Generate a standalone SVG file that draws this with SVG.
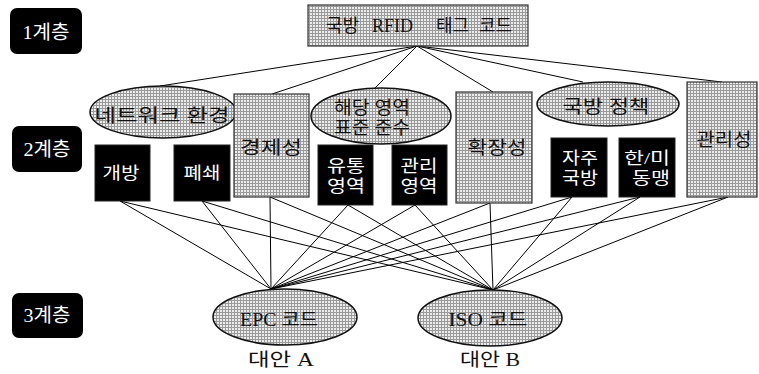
<svg xmlns="http://www.w3.org/2000/svg" width="759" height="374" viewBox="0 0 759 374">
<style>
.lbl{fill:#000}
.lt{fill:#fff;font-family:"Liberation Serif","Noto Sans CJK KR",serif;font-size:19px;text-anchor:middle;dominant-baseline:central}
.g{fill:url(#mesh);stroke:#333;stroke-width:1.2}
.ge{fill:url(#mesh);stroke:#111;stroke-width:1.5}
.b{fill:#000;stroke:#222;stroke-width:1}
.t{fill:#111;font-family:"Liberation Serif","Noto Sans CJK KR",serif;font-size:18px;text-anchor:middle;dominant-baseline:central}
.w{fill:#fff;font-family:"Liberation Serif","Noto Sans CJK KR",serif;font-size:17px;text-anchor:middle;dominant-baseline:central}
.c line{stroke:#000;stroke-width:1}
</style>
<defs>
<pattern id="mesh" width="3" height="3" patternUnits="userSpaceOnUse">
<rect width="3" height="3" fill="#ececec"/>
<rect width="3" height="1" fill="#9a9a9a"/>
<rect width="1" height="3" fill="#9a9a9a"/>
</pattern>
</defs>
<rect width="759" height="374" fill="#fff"/>

<g id="connectors" class="c">
<line x1="417" y1="46" x2="160" y2="86"/>
<line x1="417" y1="46" x2="272" y2="94"/>
<line x1="417" y1="46" x2="375" y2="88"/>
<line x1="417" y1="46" x2="493" y2="92"/>
<line x1="417" y1="46" x2="583" y2="82"/>
<line x1="417" y1="46" x2="722" y2="82"/>

<line x1="120" y1="201" x2="271" y2="289"/>
<line x1="120" y1="201" x2="493" y2="290"/>
<line x1="202" y1="201" x2="271" y2="289"/>
<line x1="202" y1="201" x2="493" y2="290"/>
<line x1="270" y1="197" x2="271" y2="289"/>
<line x1="270" y1="197" x2="493" y2="290"/>
<line x1="348" y1="205" x2="271" y2="289"/>
<line x1="348" y1="205" x2="493" y2="290"/>
<line x1="415" y1="205" x2="271" y2="289"/>
<line x1="415" y1="205" x2="493" y2="290"/>
<line x1="490" y1="203" x2="271" y2="289"/>
<line x1="490" y1="203" x2="493" y2="290"/>
<line x1="572" y1="197" x2="271" y2="289"/>
<line x1="572" y1="197" x2="493" y2="290"/>
<line x1="640" y1="197" x2="271" y2="289"/>
<line x1="640" y1="197" x2="493" y2="290"/>
<line x1="728" y1="197" x2="271" y2="289"/>
<line x1="728" y1="197" x2="493" y2="290"/>
</g>

<g id="layer1">
<rect x="10" y="8" width="72" height="46" rx="7" class="lbl"/>
<text x="46" y="32" class="lt" textLength="47" lengthAdjust="spacingAndGlyphs">1계층</text>
</g>
<g id="layer2">
<rect x="12" y="126" width="70" height="46" rx="7" class="lbl"/>
<text x="47" y="149" class="lt" textLength="47" lengthAdjust="spacingAndGlyphs">2계층</text>
</g>
<g id="layer3">
<rect x="12" y="293" width="71" height="45" rx="7" class="lbl"/>
<text x="47" y="315" class="lt" textLength="47" lengthAdjust="spacingAndGlyphs">3계층</text>
</g>

<g id="root">
<rect x="308" y="5" width="220" height="41" class="g"/>
<text y="26" class="t" font-size="19" style="text-anchor:start"><tspan x="326">국방</tspan><tspan x="372">RFID</tspan><tspan x="436">태그</tspan><tspan x="479">코드</tspan></text>
</g>

<g id="network">
<ellipse cx="163" cy="112" rx="73" ry="26" class="ge"/>
<text x="162" y="116" class="t" font-size="20" textLength="135" lengthAdjust="spacingAndGlyphs">네트워크 환경</text>
</g>
<g id="economy">
<rect x="234" y="94" width="75" height="103" class="g"/>
<text x="271" y="148" class="t" font-size="19" textLength="62" lengthAdjust="spacingAndGlyphs">경제성</text>
</g>
<g id="standard">
<ellipse cx="381" cy="116" rx="70" ry="28" class="ge"/>
<text x="372" y="108" class="t" textLength="76" lengthAdjust="spacingAndGlyphs">해당 영역</text>
<text x="372" y="128" class="t" textLength="76" lengthAdjust="spacingAndGlyphs">표준 준수</text>
</g>
<g id="extensibility">
<rect x="456" y="92" width="76" height="111" class="g"/>
<text x="497" y="148" class="t" font-size="19" textLength="59" lengthAdjust="spacingAndGlyphs">확장성</text>
</g>
<g id="policy">
<ellipse cx="608" cy="104" rx="71" ry="22" class="ge"/>
<text x="606" y="107" class="t" font-size="19" textLength="87" lengthAdjust="spacingAndGlyphs">국방 정책</text>
</g>
<g id="management">
<rect x="687" y="82" width="70" height="115" class="g"/>
<text x="724" y="140" class="t" textLength="55" lengthAdjust="spacingAndGlyphs">관리성</text>
</g>

<g id="open">
<rect x="95" y="145" width="55" height="56" class="b"/>
<text x="121" y="173" class="w" textLength="37" lengthAdjust="spacingAndGlyphs">개방</text>
</g>
<g id="closed">
<rect x="174" y="145" width="56" height="56" class="b"/>
<text x="202" y="173" class="w" textLength="37" lengthAdjust="spacingAndGlyphs">폐쇄</text>
</g>
<g id="distribution">
<rect x="318" y="145" width="55" height="60" class="b"/>
<text x="346" y="166" class="w" textLength="38" lengthAdjust="spacingAndGlyphs">유통</text>
<text x="346" y="186" class="w" textLength="38" lengthAdjust="spacingAndGlyphs">영역</text>
</g>
<g id="mgmtarea">
<rect x="392" y="145" width="55" height="60" class="b"/>
<text x="419" y="166" class="w" textLength="37" lengthAdjust="spacingAndGlyphs">관리</text>
<text x="419" y="186" class="w" textLength="37" lengthAdjust="spacingAndGlyphs">영역</text>
</g>
<g id="selfdefense">
<rect x="551" y="138" width="56" height="59" class="b"/>
<text x="580" y="158" class="w" textLength="36" lengthAdjust="spacingAndGlyphs">자주</text>
<text x="580" y="178" class="w" textLength="36" lengthAdjust="spacingAndGlyphs">국방</text>
</g>
<g id="alliance">
<rect x="619" y="138" width="56" height="59" class="b"/>
<text x="647" y="158" class="w" textLength="46" lengthAdjust="spacingAndGlyphs">한/미</text>
<text x="651" y="178" class="w" textLength="38" lengthAdjust="spacingAndGlyphs">동맹</text>
</g>

<g id="epc">
<ellipse cx="285" cy="317" rx="72" ry="28" class="ge"/>
<text x="279" y="320" class="t" font-size="17" textLength="78" lengthAdjust="spacingAndGlyphs">EPC 코드</text>
<text x="281" y="360" class="t" font-size="17" textLength="66" lengthAdjust="spacingAndGlyphs">대안 A</text>
</g>
<g id="iso">
<ellipse cx="490" cy="318" rx="72" ry="28" class="ge"/>
<text x="488" y="320" class="t" font-size="17" textLength="79" lengthAdjust="spacingAndGlyphs">ISO 코드</text>
<text x="490" y="360" class="t" font-size="17" textLength="60" lengthAdjust="spacingAndGlyphs">대안 B</text>
</g>
</svg>
